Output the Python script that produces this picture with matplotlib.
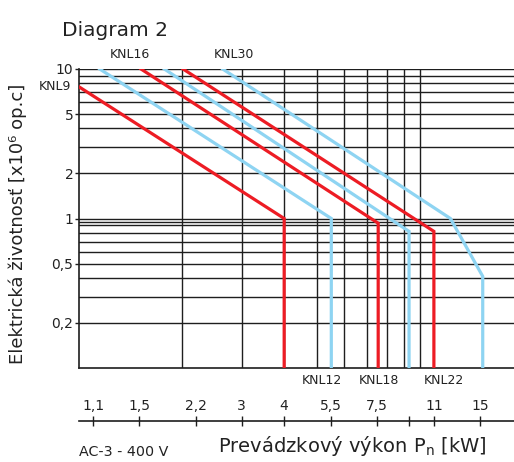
import matplotlib
matplotlib.use("Agg")
import matplotlib.pyplot as plt
from matplotlib.ticker import NullLocator, FixedLocator, FixedFormatter

# --- data -------------------------------------------------------------
# contactor life curves: rated power P [kW] vs. electrical life [x10^6 cycles]
knl9_p = [1.0, 4.0, 4.0]
knl9_life = [7.6, 1.0, 0.1]
knl12_p = [1.15, 5.5, 5.5]
knl12_life = [10.0, 1.0, 0.1]
knl16_p = [1.52, 7.55, 7.55]
knl16_life = [10.0, 0.93, 0.1]
knl18_p = [1.78, 9.3, 9.3]
knl18_life = [10.0, 0.82, 0.1]
knl22_p = [2.02, 11.0, 11.0]
knl22_life = [10.0, 0.82, 0.1]
knl30_p = [2.64, 12.3, 15.3, 15.3]
knl30_life = [10.0, 1.0, 0.41, 0.1]

life_ticks = [10, 5, 2, 1, 0.5, 0.2]
life_tick_labels = ["10", "5", "2", "1", "0,5", "0,2"]
life_grid = [10, 9, 8, 7, 6, 5, 4, 3, 2, 1, 0.95, 0.9, 0.8, 0.7, 0.6, 0.5, 0.4, 0.3, 0.2]
power_grid = [2, 3, 4, 5, 6, 7, 8, 9, 10]
power_ticks = [1.1, 1.5, 2.2, 3, 4, 5.5, 7.5, 9.3, 11, 15]
power_tick_labels = ["1,1", "1,5", "2,2", "3", "4", "5,5", "7,5", "", "11", "15"]

RED = "#ed1c24"
BLUE = "#8ed4f2"
GRID = "#1e1e1e"
TEXT = "#222222"

W, H = 514, 462
plt.rcParams["font.family"] = ["DejaVu Sans"]

fig = plt.figure(figsize=(W / 100, H / 100), dpi=100)


def fx(x):
    return x / W


def fy(y):
    return 1 - y / H


ax_left, ax_top, ax_bottom = 79, 69, 368
ax = fig.add_axes([fx(ax_left), fy(ax_bottom), 1 - fx(ax_left), (ax_bottom - ax_top) / H])
ax.set_xscale("log")
ax.set_yscale("log")
ax.set_xlim(1.0, 18.9)
ax.set_ylim(0.1, 10)

for v in life_grid:
    ax.axhline(v, color=GRID, lw=1.0, zorder=1)
for v in power_grid:
    ax.axvline(v, color=GRID, lw=1.0, zorder=1)

curves = [
    (knl9_p, knl9_life, RED),
    (knl12_p, knl12_life, BLUE),
    (knl16_p, knl16_life, RED),
    (knl18_p, knl18_life, BLUE),
    (knl22_p, knl22_life, RED),
    (knl30_p, knl30_life, BLUE),
]
for p, life, col in curves:
    ax.plot(p, life, color=col, lw=2.3, solid_joinstyle="miter", zorder=3, clip_on=True)

for side in ("top", "right"):
    ax.spines[side].set_visible(False)
for side in ("left", "bottom"):
    ax.spines[side].set_color(GRID)
    ax.spines[side].set_linewidth(1.2)

ax.xaxis.set_major_locator(NullLocator())
ax.xaxis.set_minor_locator(NullLocator())
ax.yaxis.set_major_locator(FixedLocator(life_ticks))
ax.yaxis.set_major_formatter(FixedFormatter(life_tick_labels))
ax.yaxis.set_minor_locator(NullLocator())
ax.tick_params(axis="y", length=3, width=1.0, color=GRID, pad=1, labelsize=10, labelcolor=TEXT)

# secondary power scale below the chart
axis_y = 421.7
ax2 = fig.add_axes([fx(ax_left), fy(axis_y), 1 - fx(ax_left), 0.0005])
ax2.set_xscale("log")
ax2.set_xlim(ax.get_xlim())
ax2.set_yticks([])
for side in ("left", "right", "bottom"):
    ax2.spines[side].set_visible(False)
ax2.spines["top"].set_color(GRID)
ax2.spines["top"].set_linewidth(1.2)
ax2.patch.set_visible(False)
ax2.xaxis.set_major_locator(FixedLocator(power_ticks))
ax2.xaxis.set_major_formatter(FixedFormatter(power_tick_labels))
ax2.xaxis.set_minor_locator(NullLocator())
ax2.tick_params(axis="x", top=True, bottom=False, labeltop=True, labelbottom=False,
                direction="inout", length=7.5, width=1.0, color=GRID, pad=2,
                labelsize=10, labelcolor=TEXT)

# curve labels
lab_kw = dict(fontsize=9, color=TEXT, ha="center", va="center")
fig.text(fx(130), fy(54), "KNL16", **lab_kw)
fig.text(fx(234), fy(54), "KNL30", **lab_kw)
fig.text(fx(55), fy(87), "KNL9", **lab_kw)
fig.text(fx(322), fy(381), "KNL12", **lab_kw)
fig.text(fx(379), fy(381), "KNL18", **lab_kw)
fig.text(fx(444), fy(381), "KNL22", **lab_kw)

fig.text(fx(62), fy(30), "Diagram 2", fontsize=14.5, color=TEXT, ha="left", va="center")
fig.text(fx(18), fy(224), "Elektrická životnosť [x10⁶ op.c]", fontsize=13, color=TEXT,
         rotation=90, ha="center", va="center")
fig.text(fx(79), fy(452), "AC-3 - 400 V", fontsize=10.3, color=TEXT, ha="left", va="center")
fig.text(fx(218), fy(446), r"Prevádzkový výkon P$_\mathregular{n}$ [kW]", fontsize=14,
         color=TEXT, ha="left", va="center")

fig.savefig("out.png", dpi=100)
